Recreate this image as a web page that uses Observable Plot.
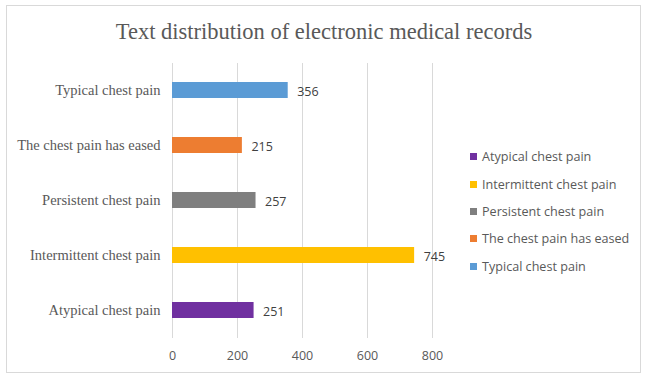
<!DOCTYPE html>
<html>
<head>
<meta charset="utf-8">
<script src="https://cdn.jsdelivr.net/npm/d3@7"></script>
<script src="https://cdn.jsdelivr.net/npm/@observablehq/plot@0.6"></script>
<style>
  html, body { margin: 0; padding: 0; background: #fff; }
  #wrap { position: relative; width: 662px; height: 390px; background: #fff; overflow: hidden; }
  #frame { position: absolute; left: 6px; top: 5px; width: 635px; height: 368px; border: 1px solid #d9d9d9; box-sizing: border-box; }
  #title { position: absolute; left: 6px; width: 636px; top: 17px; text-align: center; font-family: "Liberation Serif", serif; font-size: 22.5px; color: #595959; line-height: 30px; }
  #chart { position: absolute; left: 0; top: 0; }
  #legend { position: absolute; left: 470px; top: 143px; font-family: "Open Sans", sans-serif; font-size: 12.6px; color: #595959; }
  .item { height: 27.4px; display: flex; align-items: center; white-space: nowrap; }
  .sw { width: 7px; height: 7px; margin-right: 5px; flex: none; }
</style>
</head>
<body>
<div id="wrap">
  <div id="frame"></div>
  <div id="title">Text distribution of electronic medical records</div>
  <div id="chart"></div>
  <div id="legend"></div>
</div>
<script>
const categories = ["Atypical chest pain", "Intermittent chest pain", "Persistent chest pain", "The chest pain has eased", "Typical chest pain"];
const counts = [251, 745, 257, 215, 356];
const colors = ["#7030A0", "#FFC000", "#7F7F7F", "#ED7D31", "#5B9BD5"];
const xTicks = [0, 200, 400, 600, 800];

const data = categories.map((c, i) => ({category: c, count: counts[i], color: colors[i]}));

const plot = Plot.plot({
  width: 662,
  height: 390,
  marginLeft: 172,
  marginRight: 230,
  marginTop: 63,
  marginBottom: 52,
  style: {background: "transparent", overflow: "visible"},
  x: {domain: [0, 800], ticks: xTicks},
  y: {domain: categories.slice().reverse(), paddingInner: 0.709, paddingOuter: 0.3545},
  marks: [
    Plot.ruleX(xTicks, {stroke: "#d9d9d9", strokeWidth: 1}),
    Plot.barX(data, {x: "count", y: "category", fill: "color"}),
    Plot.text(data, {x: "count", y: "category", text: d => String(d.count), textAnchor: "start", dx: 9, dy: 1, fill: "#404040", fontFamily: "Open Sans", fontSize: 12.5}),
    Plot.axisX({ticks: xTicks, tickSize: 0, tickPadding: 13, fill: "#595959", fontFamily: "Open Sans", fontSize: 12.5, label: null}),
    Plot.axisY({tickSize: 0, tickPadding: 12, fill: "#595959", fontFamily: "Liberation Serif", fontSize: 14.5, label: null})
  ]
});
document.getElementById("chart").appendChild(plot);

const legend = document.getElementById("legend");
categories.forEach((c, i) => {
  const row = document.createElement("div");
  row.className = "item";
  const sw = document.createElement("span");
  sw.className = "sw";
  sw.style.background = colors[i];
  const t = document.createElement("span");
  t.textContent = c;
  row.appendChild(sw);
  row.appendChild(t);
  legend.appendChild(row);
});
</script>
</body>
</html>
